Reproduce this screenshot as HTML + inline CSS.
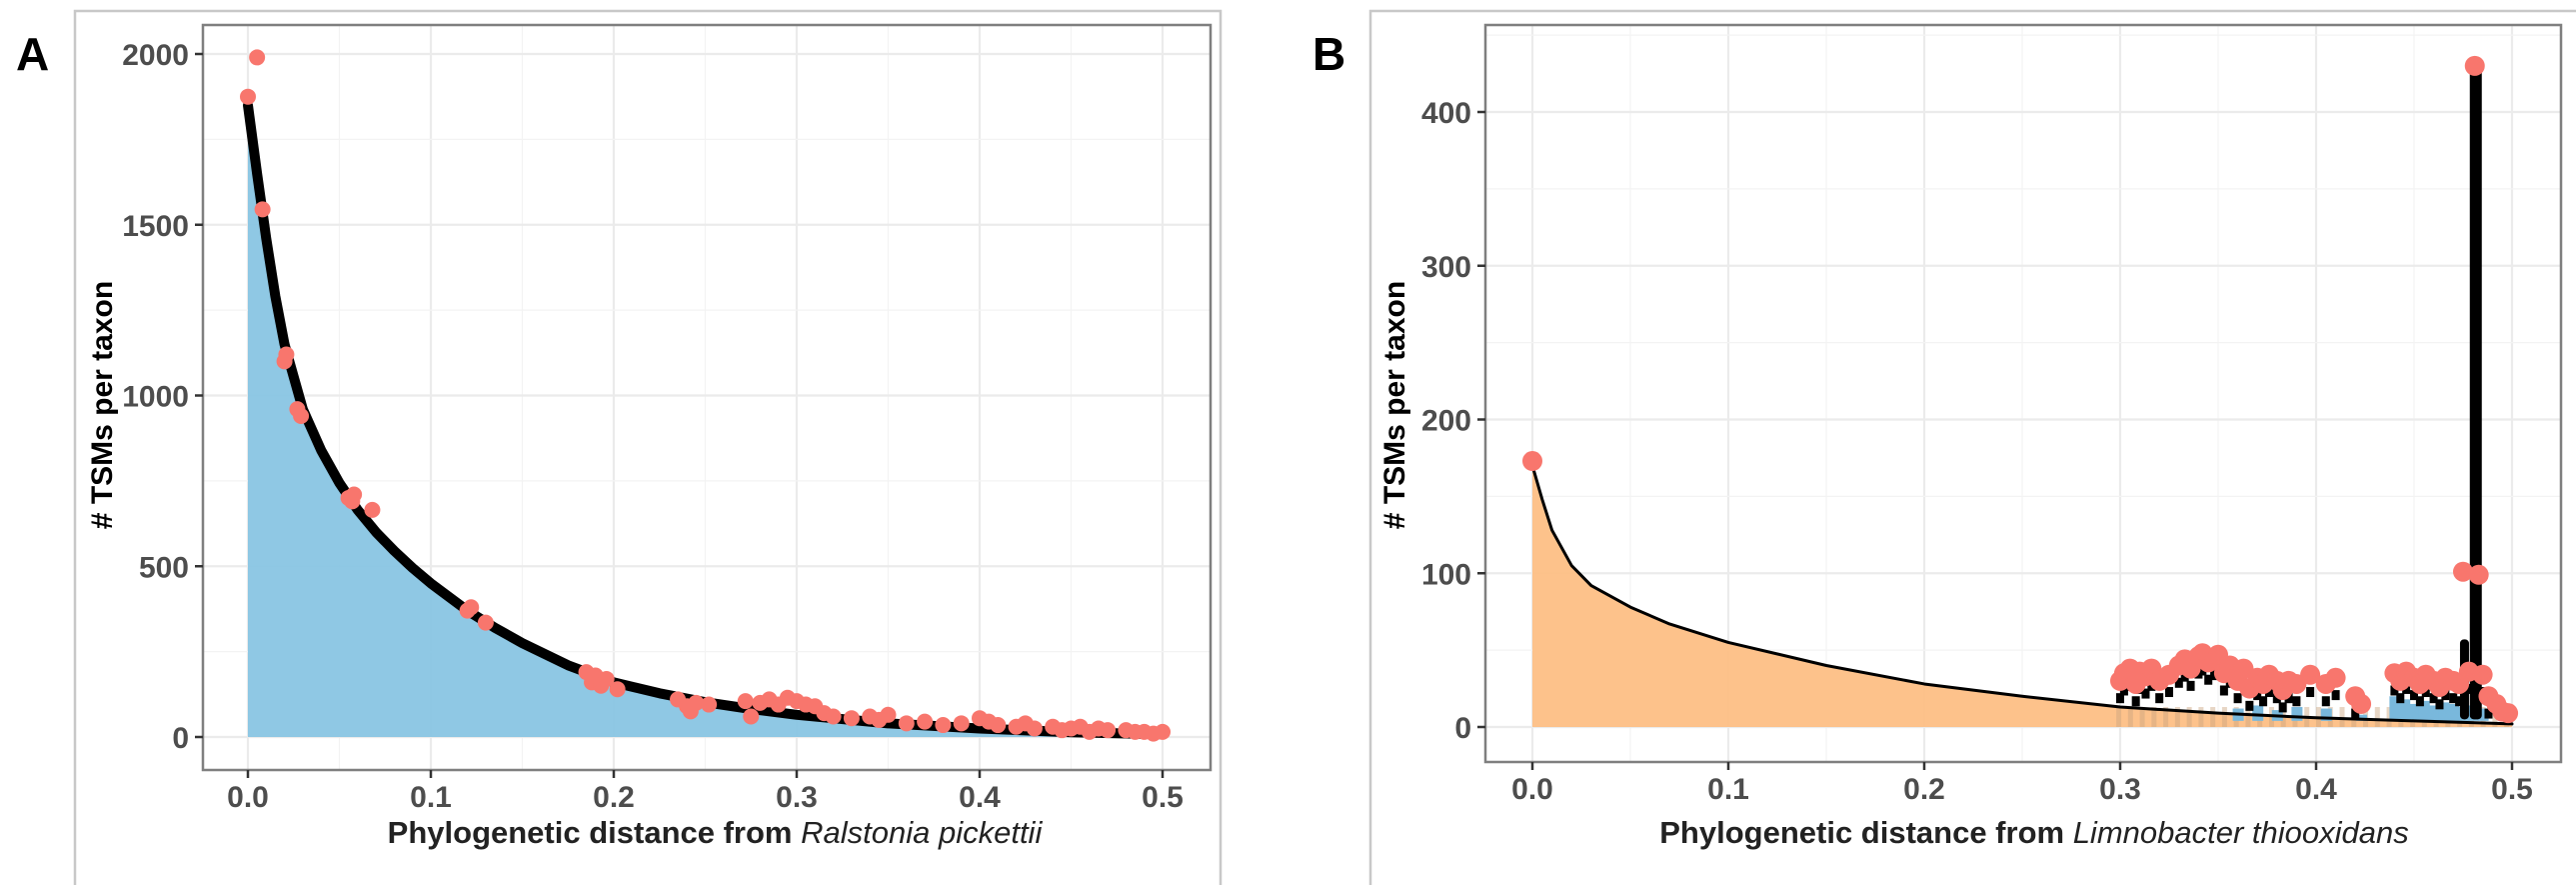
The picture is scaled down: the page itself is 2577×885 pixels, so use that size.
<!DOCTYPE html>
<html><head><meta charset="utf-8"><style>
html,body{margin:0;padding:0;background:#fff}
svg{display:block;font-family:"Liberation Sans",sans-serif}
</style></head><body>
<svg id="fig" width="2577" height="885" viewBox="0 0 2577 885" xmlns="http://www.w3.org/2000/svg">
<g id="panelA"></g>
<g id="panelB"></g>
</svg>
<script>
// Panel A data
const aCurveX = [0,0.005,0.01,0.015,0.02,0.03,0.04,0.05,0.06,0.07,0.08,0.09,0.1,0.11,0.12,0.135,0.15,0.175,0.2,0.225,0.25,0.275,0.3,0.35,0.4,0.45,0.5];
const aCurveY = [1850,1650,1460,1290,1150,960,840,744,665,600,545,495,450,410,370,320,275,210,160,128,102,82,65,40,25,14,8];
const aPtX = [0,0.005,0.008,0.02,0.021,0.027,0.029,0.055,0.057,0.058,0.068,0.12,0.122,0.13,0.185,0.188,0.19,0.193,0.196,0.202,0.235,0.24,0.242,0.245,0.252,0.272,0.275,0.28,0.285,0.29,0.295,0.3,0.305,0.31,0.315,0.32,0.33,0.34,0.345,0.35,0.36,0.37,0.38,0.39,0.4,0.405,0.41,0.42,0.425,0.43,0.44,0.445,0.45,0.455,0.46,0.465,0.47,0.48,0.485,0.49,0.495,0.5];
const aPtY = [1875,1990,1545,1100,1120,960,940,700,690,710,665,370,380,335,190,160,180,150,170,140,110,90,75,100,95,105,60,100,110,95,115,105,95,90,70,60,55,60,50,65,40,45,35,40,55,45,35,30,40,25,30,20,25,30,15,25,20,20,15,15,10,15];
// Panel B data
const bCurveX = [0,0.005,0.01,0.02,0.03,0.05,0.07,0.1,0.15,0.2,0.25,0.3,0.35,0.4,0.45,0.5];
const bCurveY = [170,148,128,105,92,78,67,55,40,28,20,13,9,6,4,2];
const bPtX = [0,0.3,0.302,0.305,0.308,0.31,0.313,0.316,0.32,0.325,0.33,0.333,0.336,0.34,0.342,0.345,0.348,0.35,0.353,0.356,0.36,0.363,0.366,0.37,0.373,0.376,0.38,0.383,0.386,0.39,0.397,0.405,0.41,0.42,0.423,0.44,0.443,0.446,0.45,0.453,0.456,0.46,0.463,0.466,0.47,0.473,0.475,0.478,0.481,0.483,0.485,0.488,0.492,0.495,0.498];
const bPtY = [173,30,35,38,28,36,33,38,30,34,40,44,38,46,48,42,45,47,35,40,30,38,25,32,28,34,30,24,30,28,34,28,32,20,15,35,30,36,32,28,34,30,26,32,30,28,101,36,430,99,34,20,15,10,9];
const bSpikeX = [0.476,0.481];
const bSpikeY = [57,432];
const bBlueX = [0.36,0.37,0.38,0.39,0.405,0.423,0.44,0.445,0.45,0.455,0.46,0.465,0.47,0.475,0.48,0.485];
const bBlueY = [12,14,11,13,12,8,20,18,15,17,14,16,15,13,14,12];
const aYTicks = [0,500,1000,1500,2000];
const bYTicks = [0,100,200,300,400];
const xTicks = [0,0.1,0.2,0.3,0.4,0.5];
const xTickLabels = ["0.0","0.1","0.2","0.3","0.4","0.5"];

const NS = "http://www.w3.org/2000/svg";
function mk(parent, tag, attrs, text){
  const e = document.createElementNS(NS, tag);
  for (const k in attrs) e.setAttribute(k, attrs[k]);
  if (text !== undefined) e.textContent = text;
  parent.appendChild(e); return e;
}

function panel(g, cfg){
  const {L,R,T,B,x0,xs,y0,ys,yTicks} = cfg;
  const X = v => x0 + v*xs;
  const Y = v => y0 - v*ys;
  const fr = mk(g,'path',{d:cfg.frame,fill:'none',stroke:'#c8c8c8','stroke-width':2.5});
  
  
  const lab = mk(g,'text',{x:cfg.labX,y:70,'font-size':46,'font-weight':'bold',fill:'#000'},cfg.letter);
  
  
  const grid = mk(g,'g',{});
  
  
  for (let i=0;i<xTicks.length;i++){
    mk(grid,'line',{x1:X(xTicks[i]),x2:X(xTicks[i]),y1:T,y2:B,stroke:'#ebebeb','stroke-width':2.2});
    if (i<xTicks.length-1){const m=(xTicks[i]+xTicks[i+1])/2;mk(grid,'line',{x1:X(m),x2:X(m),y1:T,y2:B,stroke:'#f3f3f3','stroke-width':1.2});}
  }
  for (let i=0;i<yTicks.length;i++){
    mk(grid,'line',{x1:L,x2:R,y1:Y(yTicks[i]),y2:Y(yTicks[i]),stroke:'#ebebeb','stroke-width':2.2});
    const m = yTicks[i]+(yTicks[1]-yTicks[0])/2;
    if (Y(m)>T) mk(grid,'line',{x1:L,x2:R,y1:Y(m),y2:Y(m),stroke:'#f3f3f3','stroke-width':1.2});
  }
  let d = 'M'+X(cfg.cx[0])+','+Y(0);
  for (let i=0;i<cfg.cx.length;i++) d += ' L'+X(cfg.cx[i])+','+Y(cfg.cy[i]);
  d += ' L'+X(cfg.cx[cfg.cx.length-1])+','+Y(0)+' Z';
  const area = mk(g,'path',{d:d,fill:cfg.fill,opacity:0.95});
  
  
  cfg.extra && cfg.extra(X,Y);
  let ld = '';
  for (let i=0;i<cfg.cx.length;i++) ld += (i?' L':'M')+X(cfg.cx[i])+','+Y(cfg.cy[i]);
  const line = mk(g,'path',{d:ld,fill:'none',stroke:'#000','stroke-width':cfg.lw,'stroke-linejoin':'round','stroke-linecap':'round'});
  
  
  cfg.extra2 && cfg.extra2(X,Y);
  const pts = mk(g,'g',{});
  
  
  for (let i=0;i<cfg.px.length;i++){
    const c = mk(pts,'circle',{cx:X(cfg.px[i]),cy:Y(cfg.py[i]),r:cfg.pr,fill:'#f8766d'});
    
    
  }
  const bd = mk(g,'rect',{x:L,y:T,width:R-L,height:B-T,fill:'none',stroke:'#7f7f7f','stroke-width':2.5});
  
  
  for (let i=0;i<yTicks.length;i++){
    mk(g,'line',{x1:L-8,x2:L,y1:Y(yTicks[i]),y2:Y(yTicks[i]),stroke:'#333','stroke-width':2.5});
    const t = mk(g,'text',{x:L-14,y:Y(yTicks[i])+11,'text-anchor':'end','font-size':30,'font-weight':'bold',fill:'#4d4d4d'},String(yTicks[i]));
    
    
  }
  for (let i=0;i<xTicks.length;i++){
    mk(g,'line',{x1:X(xTicks[i]),x2:X(xTicks[i]),y1:B,y2:B+8,stroke:'#333','stroke-width':2.5});
    const t = mk(g,'text',{x:X(xTicks[i]),y:B+37,'text-anchor':'middle','font-size':30,'font-weight':'bold',fill:'#4d4d4d'},xTickLabels[i]);
    
    
  }
  const xt = mk(g,'text',{x:cfg.xtX,y:843,'text-anchor':'middle','font-size':31,'font-weight':'bold',fill:'#222'});
  
  
  mk(xt,'tspan',{},'Phylogenetic distance from ');
  mk(xt,'tspan',{'font-style':'italic','font-weight':'normal'},cfg.species);
  const yt = mk(g,'text',{x:0,y:0,transform:'translate('+cfg.ytX+','+cfg.ytY+') rotate(-90)','text-anchor':'middle','font-size':30,'font-weight':'bold',fill:'#000'},'# TSMs per taxon');
  
  
}

panel(document.getElementById('panelA'),{
  L:203,R:1211,T:25,B:770,x0:248,xs:1830,y0:737,ys:683/2000,
  yTicks:aYTicks,cx:aCurveX,cy:aCurveY,px:aPtX,py:aPtY,pr:8,fill:'#89c5e3',lw:10,
  frame:'M75,885 L75,11 L1221,11 L1221,885',labX:16,letter:'A',
  xtX:715,species:'Ralstonia pickettii',ytX:112,ytY:405
});

panel(document.getElementById('panelB'),{
  L:1486,R:2562,T:25,B:762,x0:1533,xs:1960,y0:727,ys:615/400,
  yTicks:bYTicks,cx:bCurveX,cy:bCurveY,px:bPtX,py:bPtY,pr:10,fill:'#fdbf85',lw:3,
  frame:'M1371,885 L1371,11 L2577,11',labX:1313,letter:'B',
  xtX:2035,species:'Limnobacter thiooxidans',ytX:1405,ytY:405,
  extra:(X,Y)=>{
    const g = document.getElementById('panelB');
    for (let v=0.298; v<0.5; v+=0.006){
      const r = mk(g,'rect',{x:X(v),y:Y(13),width:5,height:Y(0)-Y(13),fill:'#c9a57f',opacity:0.45});
      
      
    }
    for (let i=0;i<bBlueX.length;i++){
      const r = mk(g,'rect',{x:X(bBlueX[i])-5,y:Y(bBlueY[i]),width:11,height:Y(4)-Y(bBlueY[i]),fill:'#79b8dc'});
      
      
    }
  },
  extra2:(X,Y)=>{
    const g = document.getElementById('panelB');
    for (let i=0;i<bSpikeX.length;i++){
      const r = mk(g,'rect',{x:X(bSpikeX[i])-5,y:Y(bSpikeY[i]),width:i?12:9,height:Y(5)-Y(bSpikeY[i]),fill:'#000',rx:4});
      
      
    }
    for (let i=1;i<bPtX.length;i++){
      if (bPtY[i]>60 || bPtY[i]<18) continue;
      const r = mk(g,'rect',{x:X(bPtX[i])-4,y:Y(bPtY[i]-8),width:8,height:10,fill:'#000'});
      
      
    }
  }
});
</script>
</body></html>
